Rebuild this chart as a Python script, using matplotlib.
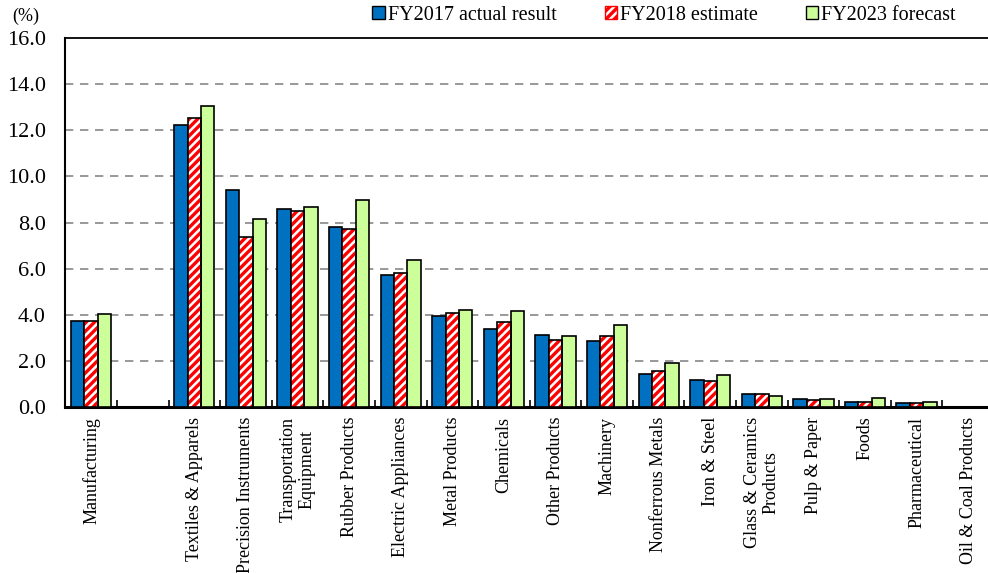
import matplotlib
matplotlib.use("Agg")
import matplotlib.pyplot as plt
import numpy as np
from matplotlib.patches import Patch

plt.rcParams['font.family'] = ['Liberation Serif', 'DejaVu Serif']
plt.rcParams['hatch.linewidth'] = 2.4

categories = ["Manufacturing", "", "Textiles & Apparels", "Precision Instruments",
              "Transportation\nEquipment", "Rubber Products", "Electric Appliances",
              "Metal Products", "Chemicals", "Other Products", "Machinery",
              "Nonferrous Metals", "Iron & Steel", "Glass & Ceramics\nProducts",
              "Pulp & Paper", "Foods", "Pharmaceutical", "Oil & Coal Products"]

fy2017 = [3.73, np.nan, 12.24, 9.41, 8.57, 7.81, 5.74, 3.96, 3.38, 3.14, 2.85,
          1.43, 1.18, 0.55, 0.36, 0.23, 0.17, np.nan]
fy2018 = [3.73, np.nan, 12.52, 7.39, 8.51, 7.73, 5.80, 4.08, 3.67, 2.90, 3.08,
          1.55, 1.11, 0.55, 0.29, 0.23, 0.17, np.nan]
fy2023 = [4.02, np.nan, 13.07, 8.15, 8.69, 8.99, 6.39, 4.19, 4.15, 3.07, 3.54,
          1.89, 1.37, 0.48, 0.36, 0.38, 0.23, np.nan]

series_names = ["FY2017 actual result", "FY2018 estimate", "FY2023 forecast"]
yticks = [0, 2, 4, 6, 8, 10, 12, 14, 16]

fig = plt.figure(figsize=(9.88, 5.73), dpi=100)
ax = fig.add_axes([65.4/988, 1-407/573, (994-65.4)/988, (407-38)/573])

x = np.arange(len(categories))
w = 0.26
blue = "#0070C0"
green = "#CCFF99"

ax.bar(x - w, fy2017, w, color=blue, edgecolor="black", linewidth=1.2, zorder=3)
ax.bar(x, fy2018, w, facecolor="white", edgecolor="#FF0000", hatch="////", linewidth=0, zorder=3)
ax.bar(x, fy2018, w, facecolor="none", edgecolor="black", linewidth=1.2, zorder=4)
ax.bar(x + w, fy2023, w, color=green, edgecolor="black", linewidth=1.2, zorder=3)

ax.set_xlim(-0.5, len(categories) - 0.5)
ax.set_ylim(0, 16)
ax.set_yticks(yticks)
ax.set_yticklabels([f"{v:.1f}" for v in yticks], fontsize=16)
ax.tick_params(axis='y', length=0, pad=14)

ax.set_xticks(x)
ax.set_xticklabels(categories, rotation=90, fontsize=13, va='top', ha='center',
                   multialignment='center', linespacing=1.1)
ax.tick_params(axis='x', which='major', length=0, pad=7)
ax.set_xticks(np.arange(0.5, len(categories) - 1, 1.0), minor=True)
ax.tick_params(axis='x', which='minor', direction='in', length=5, width=1.2)

for v in yticks[1:-1]:
    ax.axhline(v, color="#888888", linestyle=(0, (5, 4)), linewidth=1.2, zorder=1)

ax.spines['right'].set_visible(False)
ax.spines['top'].set_linewidth(1.3)
ax.spines['left'].set_linewidth(1.5)
ax.spines['bottom'].set_linewidth(2.2)

fig.text(12/988, 1-16/573, "(%)", fontsize=13, ha='left', va='center')

handles = [Patch(facecolor=blue, edgecolor="black", linewidth=1.0),
           Patch(facecolor="white", edgecolor="#FF0000", hatch="////", linewidth=1.0),
           Patch(facecolor=green, edgecolor="black", linewidth=1.0)]
fig.legend(handles, series_names, loc='center', bbox_to_anchor=(664/988, 1-15/573),
           ncol=3, frameon=False, fontsize=14.5, handlelength=0.6, handleheight=0.6,
           handletextpad=0.15, columnspacing=2.4, borderpad=0)

fig.savefig("out.png", dpi=100)
